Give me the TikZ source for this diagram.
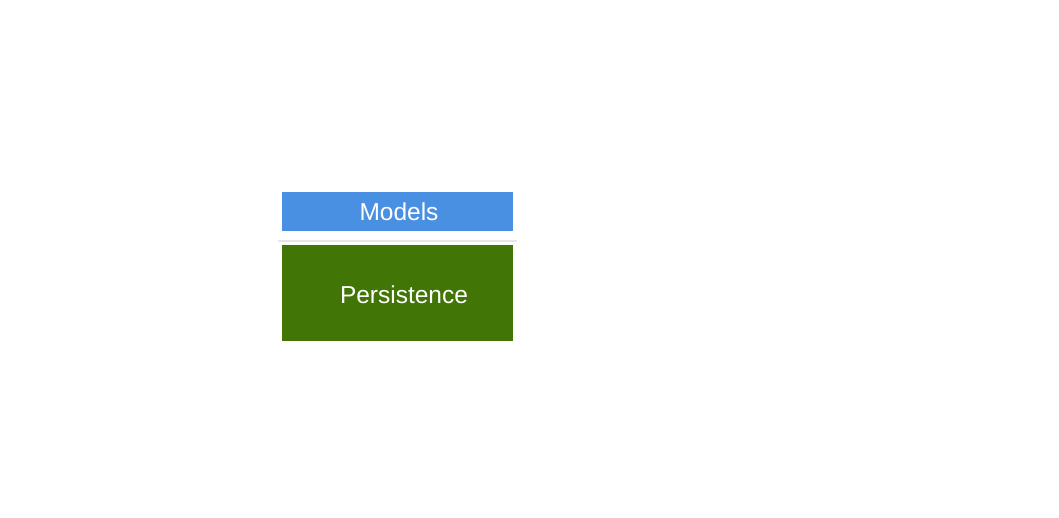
\documentclass[tikz,border=0pt]{standalone}
\usepackage{fontspec}
\setsansfont{Liberation Sans}
\definecolor{modelblue}{HTML}{4A90E2}
\definecolor{persistgreen}{HTML}{417505}
\definecolor{sepgray}{HTML}{E8E8E2}
\begin{document}
\begin{tikzpicture}[x=1pt,y=-1pt,line join=round,font=\sffamily\fontsize{24.5}{28}\selectfont]
			\useasboundingbox (0,0) rectangle (1059,517);
			%Models
			\path (282,192) coordinate (M1) (513,231) coordinate (M2);
			\fill[modelblue] (M1) rectangle (M2);
			\node[text=white] (models) at (399,212) {Models};
			%Separator
			\path (278,241) coordinate (S1) (517,241) coordinate (S2);
			\draw[sepgray,line width=1.5pt] (S1)--(S2);
			%Persistence
			\path (282,245) coordinate (P1) (513,341) coordinate (P2);
			\fill[persistgreen] (P1) rectangle (P2);
			\node[text=white] (persistence) at (404,295) {Persistence};
		\end{tikzpicture}
\end{document}
